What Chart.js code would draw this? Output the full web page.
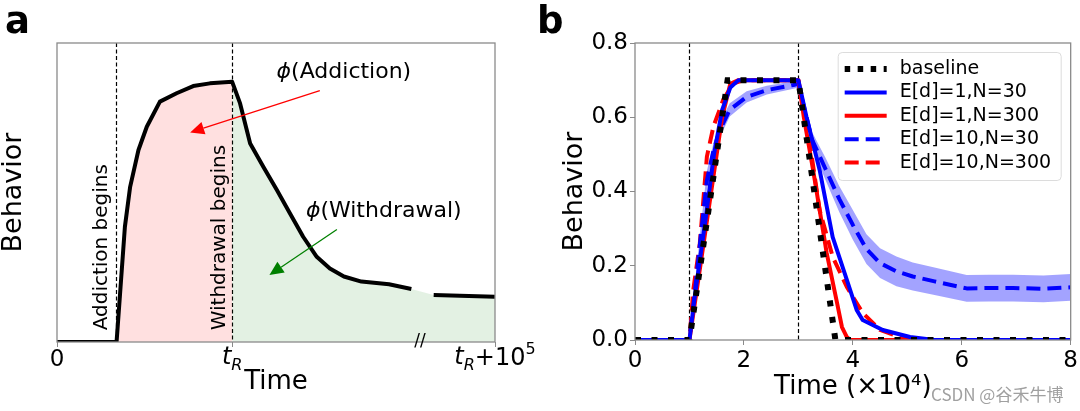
<!DOCTYPE html>
<html>
<head>
<meta charset="utf-8">
<script src="https://cdn.jsdelivr.net/npm/chart.js@4.4.0/dist/chart.umd.min.js"></script>
<style>
  html, body { margin: 0; padding: 0; background: #fff; }
  #wrap { position: relative; width: 1080px; height: 411px; overflow: hidden; }
  canvas { position: absolute; top: 0; }
  #chartA { left: 0; }
  #chartB { left: 540px; }
</style>
</head>
<body>
<div id="wrap">
  <canvas id="chartA" width="540" height="411"></canvas>
  <canvas id="chartB" width="540" height="411"></canvas>
</div>
<script>
// ---- panel a data (time as % of the window, t_R at 40) ----
const aTimes    = [0, 13.6, 14.4, 15.5, 16.7, 18.6, 20.5, 23.5, 27.3, 31.1, 34.9, 40, 41.8, 44.1, 47.1, 50.2, 53.2, 56.2, 59.3, 62.3, 65.5, 69.5, 75.8, 80.9, 83, 86.0, 100];
const aBehavior = [0, 0, 0.162, 0.385, 0.519, 0.642, 0.72, 0.804, 0.832, 0.856, 0.865, 0.870, 0.798, 0.664, 0.586, 0.508, 0.43, 0.352, 0.285, 0.246, 0.219, 0.202, 0.193, 0.177, null, 0.157, 0.151];
const aTickValues = [0, 40, 100];
const aAddictionStart = 13.4;
const aWithdrawalStart = 40;
const aBreakAt = 82.9;

// ---- panel b data (time in units of 1e4) ----
const bLabels = ['baseline', 'E[d]=1,N=30', 'E[d]=1,N=300', 'E[d]=10,N=30', 'E[d]=10,N=300'];

const baseX = [0, 1, 1.7, 3, 3.68, 8];
const baseY = [0, 0, 0.7, 0.7, 0, 0];

const d1n30X = [0, 1, 1.1, 1.3, 1.45, 1.6, 1.75, 1.9, 3, 3.15, 3.39, 3.63, 3.89, 4.07, 4.18, 4.55, 5.05, 5.5, 8];
const d1n30Y = [0, 0, 0.12, 0.33, 0.5, 0.62, 0.68, 0.7, 0.7, 0.6, 0.458, 0.277, 0.162, 0.081, 0.054, 0.027, 0.008, 0, 0];

const d1n300X = [0, 1, 1.2, 1.4, 1.6, 1.75, 1.9, 3, 3.1, 3.27, 3.52, 3.71, 3.8, 3.89, 3.95, 8];
const d1n300Y = [0, 0, 0.2, 0.4, 0.6, 0.69, 0.7, 0.7, 0.6, 0.458, 0.234, 0.1, 0.035, 0.008, 0, 0];

const d10n30X = [0, 1, 1.1, 1.2, 1.32, 1.44, 1.56, 1.74, 2.05, 2.42, 2.91, 3.0, 3.25, 3.5, 3.75, 4.0, 4.25, 4.5, 4.8, 5.1, 5.5, 6.09, 6.5, 6.94, 7.5, 8];
const d10n30Y = [0, 0, 0.13, 0.27, 0.43, 0.51, 0.566, 0.62, 0.655, 0.673, 0.687, 0.69, 0.54, 0.46, 0.38, 0.31, 0.245, 0.207, 0.185, 0.171, 0.158, 0.139, 0.14, 0.14, 0.138, 0.142];
const d10n30Hi = [0, 0, 0.15, 0.295, 0.455, 0.53, 0.586, 0.638, 0.67, 0.685, 0.697, 0.70, 0.56, 0.49, 0.415, 0.35, 0.285, 0.247, 0.225, 0.209, 0.195, 0.175, 0.176, 0.176, 0.174, 0.178];
const d10n30Lo = [0, 0, 0.11, 0.245, 0.405, 0.49, 0.546, 0.602, 0.64, 0.661, 0.677, 0.68, 0.52, 0.43, 0.345, 0.27, 0.205, 0.167, 0.145, 0.133, 0.121, 0.103, 0.104, 0.104, 0.102, 0.106];

const d10n300X = [0, 1, 1.07, 1.19, 1.32, 1.44, 1.62, 1.8, 2.0, 3, 3.2, 3.39, 3.63, 3.89, 4.18, 4.5, 4.86, 5.2, 8];
const d10n300Y = [0, 0, 0.135, 0.26, 0.494, 0.575, 0.647, 0.691, 0.7, 0.7, 0.54, 0.35, 0.224, 0.143, 0.073, 0.027, 0.008, 0, 0];

const bMarkers = [1, 3];

Chart.defaults.font.family = 'DejaVu Sans';
Chart.defaults.color = '#000';
const FRAME = '#8a8a8a';

function toPoints(xs, ys) {
    return xs.map(function (x, i) { return { x: x, y: ys[i] }; });
}

// draws pieces of text side by side: [text, font, yShift]
function drawPieces(ctx, pieces, cx, cy) {
    let total = 0;
    pieces.forEach(function (p) { ctx.font = p[1]; total += ctx.measureText(p[0]).width; });
    let x = cx - total / 2;
    ctx.textAlign = 'left';
    ctx.textBaseline = 'middle';
    pieces.forEach(function (p) {
        ctx.font = p[1];
        ctx.fillText(p[0], x, cy + (p[2] || 0));
        x += ctx.measureText(p[0]).width;
    });
}

function arrow(ctx, x1, y1, x2, y2, color) {
    const ang = Math.atan2(y2 - y1, x2 - x1);
    const hl = 14, hw = 6.5;
    const bx = x2 - hl * Math.cos(ang), by = y2 - hl * Math.sin(ang);
    ctx.strokeStyle = color;
    ctx.lineWidth = 1.3;
    ctx.setLineDash([]);
    ctx.beginPath(); ctx.moveTo(x1, y1); ctx.lineTo(bx, by); ctx.stroke();
    ctx.fillStyle = color;
    ctx.beginPath();
    ctx.moveTo(x2, y2);
    ctx.lineTo(bx + hw * Math.sin(ang), by - hw * Math.cos(ang));
    ctx.lineTo(bx - hw * Math.sin(ang), by + hw * Math.cos(ang));
    ctx.closePath();
    ctx.fill();
}

function vDashed(chart, values) {
    const ctx = chart.ctx, ca = chart.chartArea, xs = chart.scales.x;
    ctx.save();
    ctx.strokeStyle = '#000';
    ctx.lineWidth = 1.2;
    ctx.setLineDash([4, 2.5]);
    values.forEach(function (v) {
        const px = Math.round(xs.getPixelForValue(v)) + 0.5;
        ctx.beginPath(); ctx.moveTo(px, ca.top); ctx.lineTo(px, ca.bottom); ctx.stroke();
    });
    ctx.restore();
}

function frame(chart) {
    const ctx = chart.ctx, ca = chart.chartArea;
    ctx.save();
    ctx.strokeStyle = FRAME;
    ctx.lineWidth = 1.3;
    ctx.strokeRect(ca.left, ca.top, ca.right - ca.left, ca.bottom - ca.top);
    ctx.restore();
}

// ---------------- panel a ----------------
const aCurve = toPoints(aTimes, aBehavior);
const aAddictionFill = aCurve.filter(function (p) { return p.y !== null && p.x >= aAddictionStart && p.x <= aWithdrawalStart; });
const aWithdrawalFill = aCurve.filter(function (p) { return p.y !== null && p.x >= aWithdrawalStart; });

const panelA = {
    id: 'panelA',
    beforeDatasetsDraw: function (chart) {
        vDashed(chart, [aAddictionStart, aWithdrawalStart]);
    },
    afterDatasetsDraw: function (chart) {
        const ctx = chart.ctx, ca = chart.chartArea;
        const xs = chart.scales.x, ys = chart.scales.y;
        const X = function (v) { return xs.getPixelForValue(v); };
        const Y = function (v) { return ys.getPixelForValue(v); };
        ctx.save();
        ctx.fillStyle = '#000';

        // rotated markers
        ctx.font = '20px DejaVu Sans';
        ctx.textAlign = 'left';
        ctx.textBaseline = 'middle';
        [['Addiction begins', 10.3], ['Withdrawal begins', 37.1]].forEach(function (t) {
            ctx.save();
            ctx.translate(X(t[1]), Y(0.039));
            ctx.rotate(-Math.PI / 2);
            ctx.fillText(t[0], 0, 0);
            ctx.restore();
        });

        // phi labels and arrows
        drawPieces(ctx, [['ϕ', 'italic 22px DejaVu Sans'], ['(Addiction)', '22px DejaVu Sans']], X(65.5), Y(0.902));
        drawPieces(ctx, [['ϕ', 'italic 22px DejaVu Sans'], ['(Withdrawal)', '22px DejaVu Sans']], X(74.6), Y(0.437));
        arrow(ctx, X(60.0), Y(0.841), X(30.4), Y(0.701), '#ff0000');
        arrow(ctx, X(63.9), Y(0.376), X(48.5), Y(0.224), '#008000');

        frame(chart);

        // tick labels with sub/superscripts
        ctx.fillStyle = '#000';
        const ty = ca.bottom + 18;
        drawPieces(ctx, [['0', '23px DejaVu Sans']], X(aTickValues[0]), ty);
        drawPieces(ctx, [['t', 'italic 24px DejaVu Sans', -2], ['R', 'italic 16px DejaVu Sans', 6]], X(aTickValues[1]), ty);
        drawPieces(ctx, [['t', 'italic 24px DejaVu Sans', -2], ['R', 'italic 16px DejaVu Sans', 6],
                         ['+10', '24px DejaVu Sans', -1], ['5', '16px DejaVu Sans', -10]], X(aTickValues[2]), ty);

        // axis break
        ctx.font = '17px DejaVu Sans';
        ctx.textAlign = 'center';
        ctx.textBaseline = 'middle';
        ctx.fillText('//', X(aBreakAt), ca.bottom);

        // panel letter
        ctx.font = 'bold 37px DejaVu Sans';
        ctx.textAlign = 'left';
        ctx.textBaseline = 'alphabetic';
        ctx.fillText('a', 5, 33);
        ctx.restore();
    }
};

new Chart(document.getElementById('chartA'), {
    type: 'line',
    data: {
        datasets: [
            { data: aCurve, borderColor: '#000', borderWidth: 4, pointRadius: 0, fill: false,
              spanGaps: false, borderJoinStyle: 'round', tension: 0 },
            { data: aAddictionFill, borderWidth: 0, pointRadius: 0, fill: 'origin',
              backgroundColor: 'rgba(255, 0, 0, 0.12)' },
            { data: aWithdrawalFill, borderWidth: 0, pointRadius: 0, fill: 'origin',
              backgroundColor: 'rgba(0, 128, 0, 0.11)' }
        ]
    },
    options: {
        responsive: false,
        animation: false,
        devicePixelRatio: 1,
        layout: { padding: { top: 43, right: 45, left: 0, bottom: 0 } },
        plugins: { legend: { display: false }, tooltip: { enabled: false } },
        scales: {
            x: {
                type: 'linear', min: 0, max: 100,
                afterBuildTicks: function (s) { s.ticks = aTickValues.map(function (v) { return { value: v }; }); },
                afterFit: function (s) { s.height = 69; },
                ticks: { callback: function () { return ''; } },
                grid: { drawOnChartArea: false, tickLength: 5, color: FRAME },
                border: { display: false },
                title: { display: true, text: 'Time', font: { size: 26, lineHeight: 1 }, padding: { top: 0, bottom: 16 } }
            },
            y: {
                min: 0, max: 1,
                afterFit: function (s) { s.width = 57; },
                ticks: { display: false },
                grid: { display: false },
                border: { display: false },
                title: { display: true, text: 'Behavior', font: { size: 27, lineHeight: 1 }, padding: { top: 0, bottom: 0 } }
            }
        }
    },
    plugins: [panelA]
});

// ---------------- panel b ----------------
const panelB = {
    id: 'panelB',
    beforeDatasetsDraw: function (chart) {
        vDashed(chart, bMarkers);
    },
    afterDatasetsDraw: function (chart) {
        const ctx = chart.ctx, ca = chart.chartArea;
        frame(chart);

        // legend box in the upper right
        const bx = ca.right - 233, by = ca.top + 9, bw = 223, bh = 128;
        ctx.save();
        ctx.fillStyle = 'rgba(255,255,255,0.85)';
        ctx.strokeStyle = '#dcdcdc';
        ctx.lineWidth = 1;
        ctx.beginPath();
        ctx.roundRect(bx + 0.5, by + 0.5, bw, bh, 4);
        ctx.fill();
        ctx.stroke();
        ctx.font = '19px DejaVu Sans';
        ctx.textAlign = 'left';
        ctx.textBaseline = 'middle';
        for (let i = 0; i < bLabels.length; i++) {
            const ds = chart.data.datasets[i];
            const ry = by + 17 + i * 23.4;
            ctx.strokeStyle = ds.borderColor;
            ctx.lineWidth = ds.borderWidth;
            ctx.lineCap = 'butt';
            ctx.setLineDash(i === 0 ? [5.5, 7.5] : (ds.borderDash || []));
            ctx.beginPath();
            ctx.moveTo(bx + 7, ry);
            ctx.lineTo(bx + 49, ry);
            ctx.stroke();
            ctx.fillStyle = '#000';
            ctx.fillText(bLabels[i], bx + 62, ry);
        }
        ctx.setLineDash([]);

        // panel letter and watermark
        ctx.font = 'bold 37px DejaVu Sans';
        ctx.textBaseline = 'alphabetic';
        ctx.fillText('b', -3, 33);
        ctx.font = '17px "Noto Sans CJK SC", "DejaVu Sans", sans-serif';
        ctx.fillStyle = '#a0a0a0';
        ctx.textBaseline = 'middle';
        ctx.fillText('CSDN @谷禾牛博', 391, 395);
        ctx.restore();
    }
};

const lineStyle = { pointRadius: 0, fill: false, tension: 0, borderJoinStyle: 'round', borderCapStyle: 'butt' };

new Chart(document.getElementById('chartB'), {
    type: 'line',
    data: {
        datasets: [
            Object.assign({ label: bLabels[0], data: toPoints(baseX, baseY), borderColor: '#000',
                            borderWidth: 6, borderDash: [6, 10.5] }, lineStyle, { borderJoinStyle: 'miter' }),
            Object.assign({ label: bLabels[1], data: toPoints(d1n30X, d1n30Y), borderColor: '#0000ff', borderWidth: 4 }, lineStyle),
            Object.assign({ label: bLabels[2], data: toPoints(d1n300X, d1n300Y), borderColor: '#ff0000', borderWidth: 4 }, lineStyle),
            Object.assign({ label: bLabels[3], data: toPoints(d10n30X, d10n30Y), borderColor: '#0000ff', borderWidth: 4,
                            borderDash: [14, 7] }, lineStyle),
            Object.assign({ label: bLabels[4], data: toPoints(d10n300X, d10n300Y), borderColor: '#ff0000', borderWidth: 4,
                            borderDash: [14, 7] }, lineStyle),
            // spread band for E[d]=10,N=30
            { data: toPoints(d10n30X, d10n30Hi), borderWidth: 0, pointRadius: 0, fill: '+1',
              backgroundColor: 'rgba(0, 0, 255, 0.36)' },
            { data: toPoints(d10n30X, d10n30Lo), borderWidth: 0, pointRadius: 0, fill: false }
        ]
    },
    options: {
        responsive: false,
        animation: false,
        devicePixelRatio: 1,
        layout: { padding: { top: 43, right: 9, left: 0, bottom: 0 } },
        plugins: { legend: { display: false }, tooltip: { enabled: false } },
        scales: {
            x: {
                type: 'linear', min: 0, max: 8,
                afterFit: function (s) { s.height = 71; },
                ticks: { stepSize: 2, font: { size: 23 }, padding: 2, maxRotation: 0 },
                grid: { drawOnChartArea: false, tickLength: 5, color: FRAME },
                border: { display: false },
                title: { display: true, text: 'Time (×10⁴)', font: { size: 26, lineHeight: 1 }, padding: { top: 0, bottom: 11 } }
            },
            y: {
                min: 0, max: 0.8,
                afterFit: function (s) { s.width = 95; },
                ticks: { stepSize: 0.2, font: { size: 23 }, padding: 2,
                         callback: function (v) { return v.toFixed(1); } },
                grid: { drawOnChartArea: false, tickLength: 5, color: FRAME },
                border: { display: false },
                title: { display: true, text: 'Behavior', font: { size: 27, lineHeight: 1 }, padding: { top: 21, bottom: 0 } }
            }
        }
    },
    plugins: [panelB]
});
</script>
</body>
</html>
